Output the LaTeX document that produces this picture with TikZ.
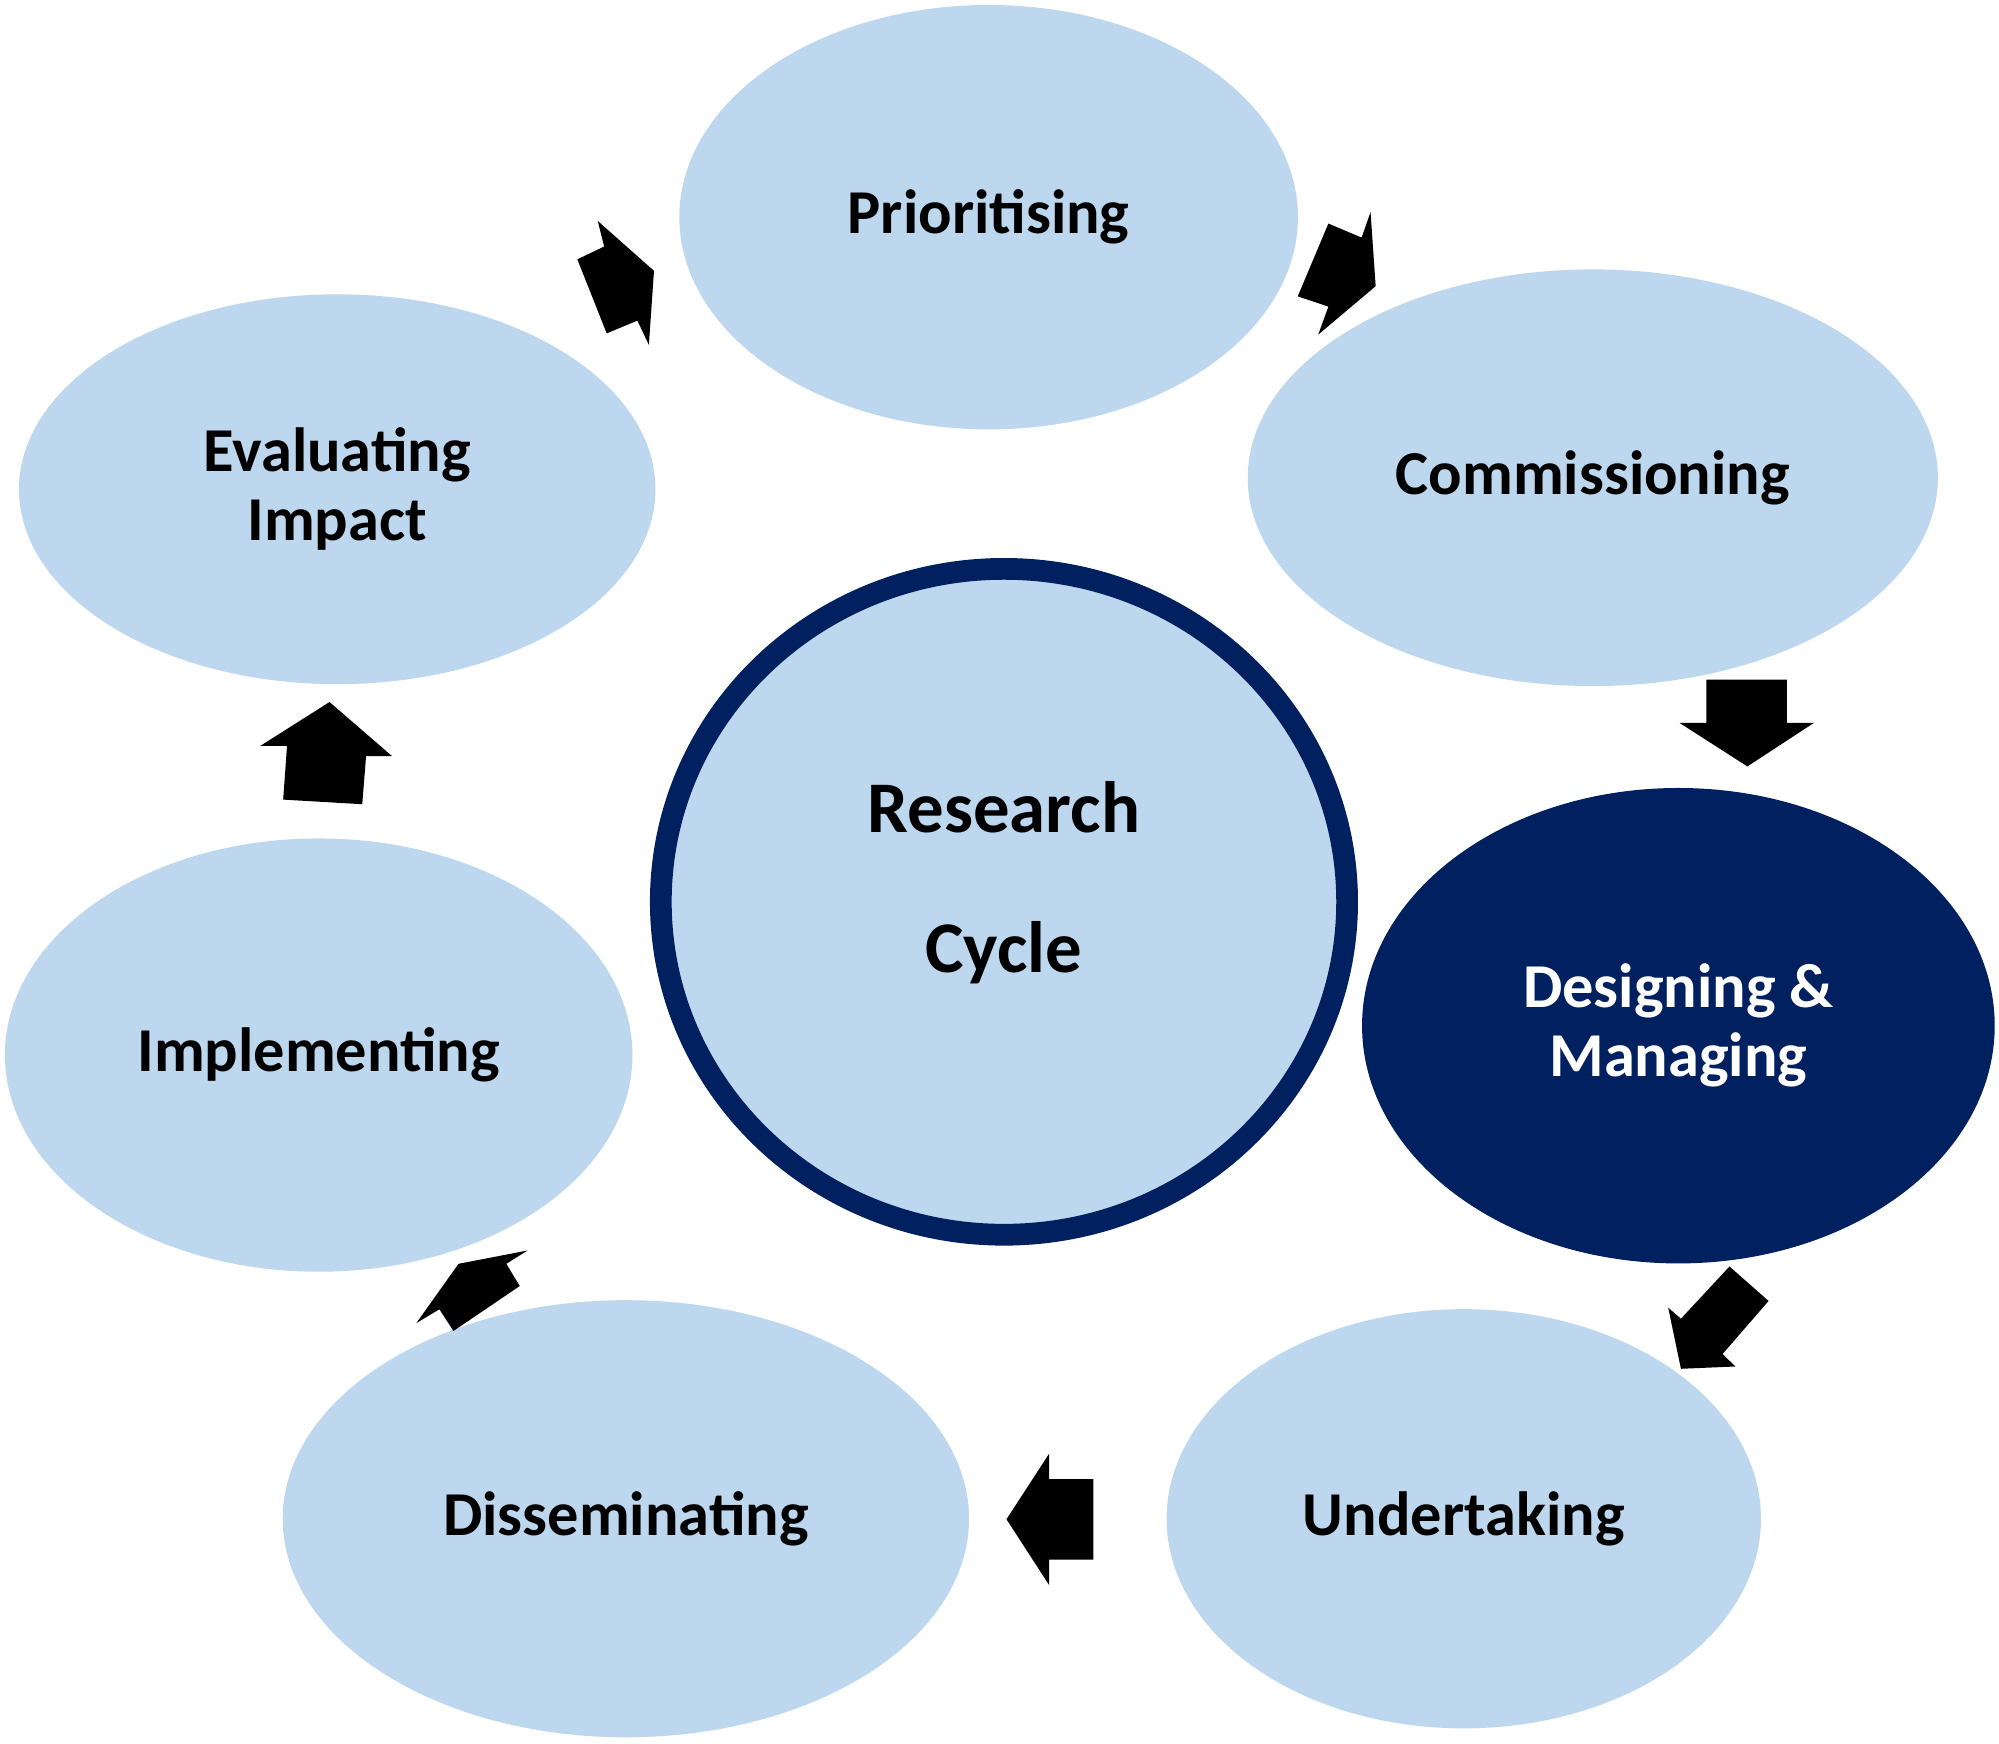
\documentclass[tikz,border=0pt]{standalone}
\usepackage{fontspec}
\setmainfont{Carlito}
\usetikzlibrary{shapes.geometric}
\definecolor{lightfill}{HTML}{BDD7EE}
\definecolor{navyblue}{HTML}{002060}
\begin{document}
\begin{tikzpicture}[x=0.01cm,y=-0.01cm,
  stage/.style={ellipse, fill=lightfill, inner sep=0pt, align=center,
    font=\fontsize{13.9}{15.4}\selectfont\bfseries},
  blockarrow/.style={fill=black}]
\useasboundingbox (0,0) rectangle (1565,1365);
\fill[white] (0,0) rectangle (1565,1365);
% stages
\node[stage, minimum width=4.84cm, minimum height=3.32cm] (prio) at (774,170) {Prioritising};
\node[stage, minimum width=5.40cm, minimum height=3.26cm] (comm) at (1247,374) {Commissioning};
\node[stage, fill=navyblue, text=white, minimum width=4.95cm, minimum height=3.72cm] (design) at (1314,803) {Designing \&\\Managing};
\node[stage, minimum width=4.65cm, minimum height=3.28cm] (under) at (1146,1189) {Undertaking};
\node[stage, minimum width=5.37cm, minimum height=3.42cm] (dissem) at (490,1189) {Disseminating};
\node[stage, minimum width=4.91cm, minimum height=3.39cm] (impl) at (249.5,826) {Implementing};
\node[stage, minimum width=4.98cm, minimum height=3.05cm] (eval) at (264,383) {Evaluating\\Impact};
% centre
\node[ellipse, fill=lightfill, draw=navyblue, line width=0.17cm, inner sep=0pt,
  minimum width=5.37cm, minimum height=5.21cm] (cycle) at (786,706) {};
\node[align=center, inner sep=0pt, font=\fontsize{16.2}{31.3}\selectfont\bfseries]
  (cycletext) at (786,691) {Research\\Cycle};
% block arrows
\fill[blockarrow] (468,173) -- (512,212) -- (508,270) -- (499,251) -- (475,261) -- (452,203) -- (473,193) -- cycle;
\fill[blockarrow] (1073,166) -- (1077,224) -- (1032,262) -- (1040,240) -- (1016,232) -- (1040,175) -- (1066,186) -- cycle;
\fill[blockarrow] (1336,532) -- (1399,532) -- (1399,566) -- (1420,566) -- (1368,600) -- (1315,566) -- (1336,566) -- cycle;
\fill[blockarrow] (1354,991.5) -- (1384.6,1018.5) -- (1348.6,1060) -- (1358.6,1069.8) -- (1316,1071.6) -- (1306,1023.7) -- (1316,1032.4) -- cycle;
\fill[blockarrow] (856,1158) -- (856,1221) -- (821.4,1221) -- (821.4,1241) -- (788,1189.4) -- (821.4,1138) -- (821.4,1158) -- cycle;
\fill[blockarrow] (413,979) -- (396.4,989.4) -- (406.9,1006.8) -- (355,1042) -- (344,1025) -- (326,1035.8) -- (359,989.4) -- cycle;
\fill[blockarrow] (258,549.6) -- (307,592) -- (286.6,592) -- (283.6,629.6) -- (221.7,626) -- (224.7,584) -- (203.7,584) -- cycle;
\end{tikzpicture}
\end{document}
